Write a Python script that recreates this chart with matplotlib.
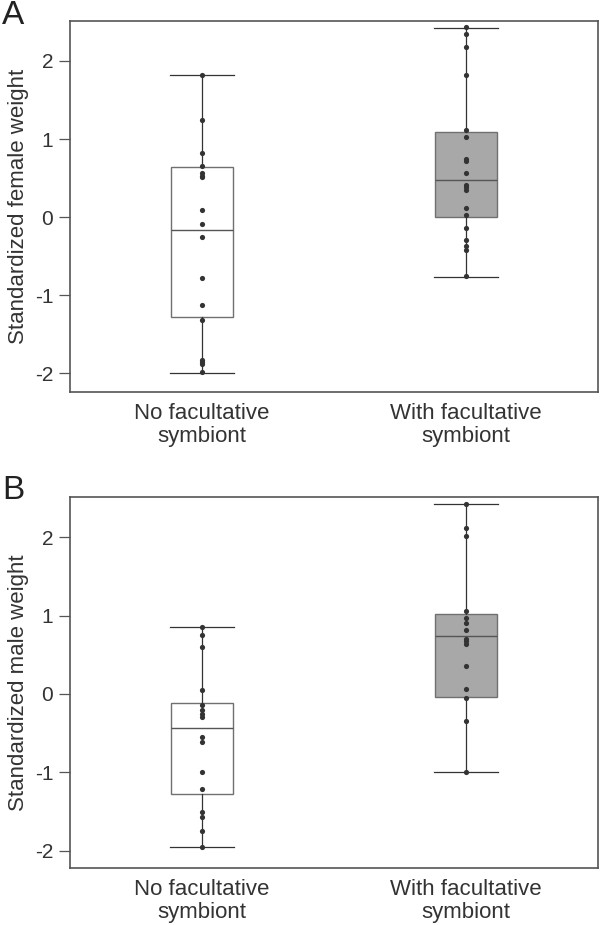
import matplotlib
matplotlib.use("Agg")
import matplotlib.pyplot as plt

plt.rcParams['font.family'] = ['Liberation Sans', 'DejaVu Sans']
plt.rcParams['axes.unicode_minus'] = False

groups = ["No facultative\nsymbiont", "With facultative\nsymbiont"]

# panel A: female weight
female_no = [1.82, 1.24, 0.82, 0.65, 0.56, 0.53, 0.51, 0.09, -0.09, -0.26,
             -0.78, -1.12, -1.32, -1.83, -1.86, -1.88, -1.99]
female_with = [2.43, 2.35, 2.18, 1.82, 1.11, 1.02, 0.74, 0.72, 0.56, 0.41,
               0.38, 0.35, 0.12, 0.03, -0.14, -0.29, -0.37, -0.42, -0.76]
female_box = [  # whislo, q1, med, q3, whishi
    (-2.0, -1.28, -0.17, 0.64, 1.82),
    (-0.77, 0.0, 0.47, 1.09, 2.42),
]

# panel B: male weight
male_no = [0.85, 0.75, 0.6, 0.05, -0.14, -0.2, -0.25, -0.3, -0.55, -0.61,
           -1.0, -1.21, -1.51, -1.57, -1.75, -1.95]
male_with = [2.42, 2.11, 2.01, 1.06, 0.97, 0.9, 0.81, 0.7, 0.67, 0.64,
             0.35, 0.06, -0.05, -0.35, -1.0]
male_box = [
    (-1.95, -1.27, -0.44, -0.11, 0.85),
    (-1.0, -0.04, 0.74, 1.02, 2.42),
]

fills = ["white", "#a8a8a8"]
edge = "#707070"
dark = "#333333"

fig = plt.figure(figsize=(6, 9.25), dpi=100)
axA = fig.add_axes([0.1167, 0.5762, 0.88, 0.401])
axB = fig.add_axes([0.1167, 0.0616, 0.88, 0.401])


def panel(ax, pts, boxes, ylabel, ylim):
    stats = []
    for lo, q1, med, q3, hi in boxes:
        stats.append(dict(whislo=lo, q1=q1, med=med, q3=q3, whishi=hi, fliers=[]))
    bp = ax.bxp(stats, positions=[1, 2], widths=0.234, patch_artist=True,
                showfliers=False,
                boxprops=dict(edgecolor=edge, linewidth=1.0),
                medianprops=dict(color="#555555", linewidth=1.0),
                whiskerprops=dict(color=dark, linewidth=0.9),
                capprops=dict(color=dark, linewidth=0.9), capwidths=0.24)
    for patch, c in zip(bp['boxes'], fills):
        patch.set_facecolor(c)
    for i, p in enumerate(pts):
        ax.scatter([i + 1] * len(p), p, s=14, color=dark, zorder=5, linewidths=0)
    ax.set_xlim(0.5, 2.5)
    ax.set_ylim(*ylim)
    ax.set_yticks([-2, -1, 0, 1, 2])
    ax.set_xticks([1, 2])
    ax.set_xticklabels(groups, fontsize=16, color=dark, linespacing=1.1)
    ax.tick_params(axis='x', length=0, pad=8)
    ax.tick_params(axis='y', length=8, width=0.9, color="#555555",
                   labelsize=15, labelcolor=dark, pad=4)
    ax.set_ylabel(ylabel, fontsize=16, color=dark, labelpad=4)
    for s in ax.spines.values():
        s.set_color("#555555")
        s.set_linewidth(1.2)


panel(axA, [female_no, female_with], female_box, "Standardized female weight", (-2.24, 2.51))
panel(axB, [male_no, male_with], male_box, "Standardized male weight", (-2.22, 2.51))

fig.text(0.003, 1.0, "A", fontsize=24, va="top", ha="left", color="#222222")
fig.text(0.003, 0.487, "B", fontsize=24, va="top", ha="left", color="#222222")

fig.savefig("out.png", dpi=100)
